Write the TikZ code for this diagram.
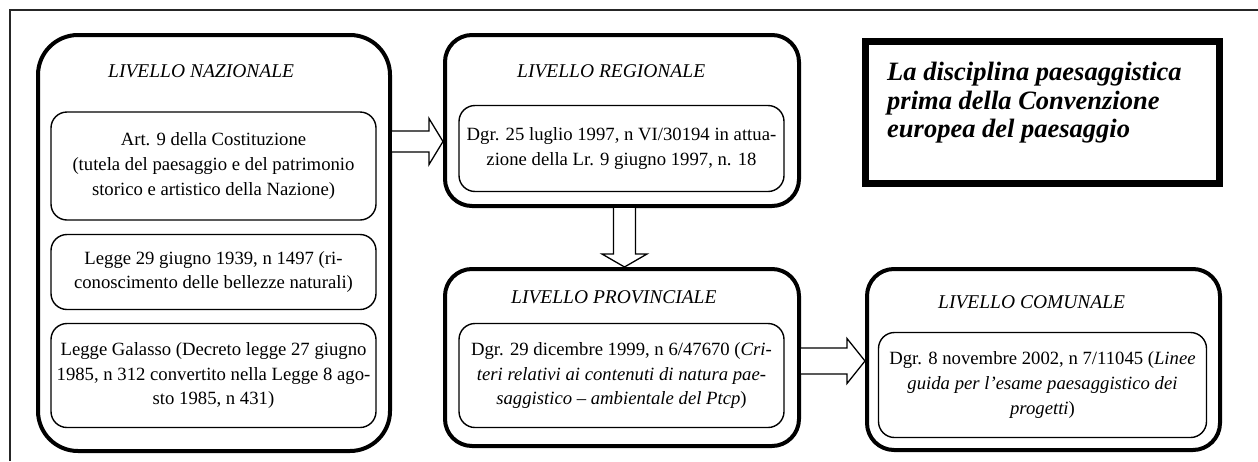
\documentclass[tikz,border=0pt]{standalone}
\usepackage{fontspec}
\setmainfont{Liberation Serif}
\usetikzlibrary{calc}
\tikzset{
  level/.style={draw, line width=4pt, rounded corners=27pt, inner sep=0pt},
  levelbig/.style={level, rounded corners=40pt},
  inbox/.style={draw, line width=1.4pt, rounded corners=16pt, inner sep=0pt, align=center,
     font=\fontsize{18.7}{24.8}\selectfont},
  ltitle/.style={anchor=base west, inner sep=0pt, font=\fontsize{19.5}{22}\selectfont\itshape},
  titlebox/.style={draw, line width=7pt, inner sep=0pt},
  blockarr/.style={draw, fill=white, line width=1.3pt, line join=miter},
  framestyle/.style={draw=black!85, line width=1.5pt}
}
\newcommand\harrowblock[2]{%
  \draw[blockarr] let \p1=(#1), \p2=(#2) in
    (\x1,\y1+\sw) -- (\x2-\hl,\y1+\sw) -- (\x2-\hl,\y1+\hw) -- (\x2,\y1)
    -- (\x2-\hl,\y1-\hw) -- (\x2-\hl,\y1-\sw) -- (\x1,\y1-\sw);}
\newcommand\varrowblock[2]{%
  \draw[blockarr] let \p1=(#1), \p2=(#2) in
    (\x1-\sw,\y1) -- (\x1-\sw,\y2+\hl) -- (\x1-\hw,\y2+\hl) -- (\x1,\y2)
    -- (\x1+\hw,\y2+\hl) -- (\x1+\sw,\y2+\hl) -- (\x1+\sw,\y1);}
\newlength\sw \newlength\hw \newlength\hl
\begin{document}
\begin{tikzpicture}[x=1pt,y=-1pt]
\useasboundingbox (0,0) rectangle (1258,461);
\fill[white] (0,0) rectangle (1258,461);
\coordinate (f1) at (10,461);
\coordinate (f2) at (10,10);
\coordinate (f3) at (1258,10);
\draw[framestyle] (f1) -- (f2) -- (f3);

% national level
\node[levelbig, minimum width=352pt, minimum height=416pt] (nat) at (214,243) {};
\node[ltitle] (natT) at (108,77) {LIVELLO NAZIONALE};
\node[inbox, minimum width=325pt, minimum height=108pt] (n1) at (213.5,166)
  {Art. 9 della Costituzione\\ (tutela del paesaggio e del patrimonio\\ storico e artistico della Nazione)};
\node[inbox, minimum width=325pt, minimum height=75pt] (n2) at (213.5,272)
  {Legge 29 giugno 1939, n 1497 (ri-\\conoscimento delle bellezze naturali)};
\node[inbox, minimum width=325pt, minimum height=104pt] (n3) at (213.5,375.5)
  {Legge Galasso (Decreto legge 27 giugno\\ 1985, n 312 convertito nella Legge 8 ago-\\sto 1985, n 431)};

% regional level
\node[level, minimum width=354pt, minimum height=171pt] (reg) at (622,120.5) {};
\node[ltitle] (regT) at (517,77) {LIVELLO REGIONALE};
\node[inbox, minimum width=325pt, minimum height=86pt] (r1) at (621.5,148.5)
  {Dgr. 25 luglio 1997, n VI/30194 in attua-\\zione della Lr. 9 giugno 1997, n. 18};

% provincial level
\node[level, minimum width=354pt, minimum height=177pt] (prov) at (622,357.5) {};
\node[ltitle] (provT) at (511,303) {LIVELLO PROVINCIALE};
\node[inbox, minimum width=325pt, minimum height=104pt] (p1) at (621.5,375.5)
  {Dgr. 29 dicembre 1999, n 6/47670 (\textit{Cri-}\\ \textit{teri relativi ai contenuti di natura pae-}\\ \textit{saggistico -- ambientale del Ptcp})};

% municipal level
\node[level, minimum width=353pt, minimum height=181pt] (com) at (1043.5,359.5) {};
\node[ltitle] (comT) at (938,308) {LIVELLO COMUNALE};
\node[inbox, minimum width=328pt, minimum height=105pt] (c1) at (1042.5,385)
  {Dgr. 8 novembre 2002, n 7/11045 (\textit{Linee}\\ \textit{guida per l’esame paesaggistico dei}\\ \textit{progetti})};

% title box
\node[titlebox, minimum width=354pt, minimum height=142pt] (tb) at (1042.5,112.5) {};
\node[anchor=north west, inner sep=0pt, align=left,
      font=\fontsize{26.5}{28.5}\selectfont\bfseries\itshape] (tbT) at (887,62)
  {La disciplina paesaggistica\\ prima della Convenzione\\ europea del paesaggio};

% block arrows
\coordinate (a1s) at (392,141.5);
\coordinate (a1e) at (reg.west |- a1s);
\setlength\sw{10.5pt}\setlength\hw{23pt}\setlength\hl{14pt}
\harrowblock{a1s}{a1e}

\coordinate (a2s) at (624.5,208);
\coordinate (a2e) at (a2s |- prov.north);
\setlength\sw{11pt}\setlength\hw{22.5pt}\setlength\hl{13pt}
\varrowblock{a2s}{a2e}

\coordinate (a3s) at (801,361);
\coordinate (a3e) at (com.west |- a3s);
\setlength\sw{13pt}\setlength\hw{22.5pt}\setlength\hl{18pt}
\harrowblock{a3s}{a3e}
\end{tikzpicture}
\end{document}
